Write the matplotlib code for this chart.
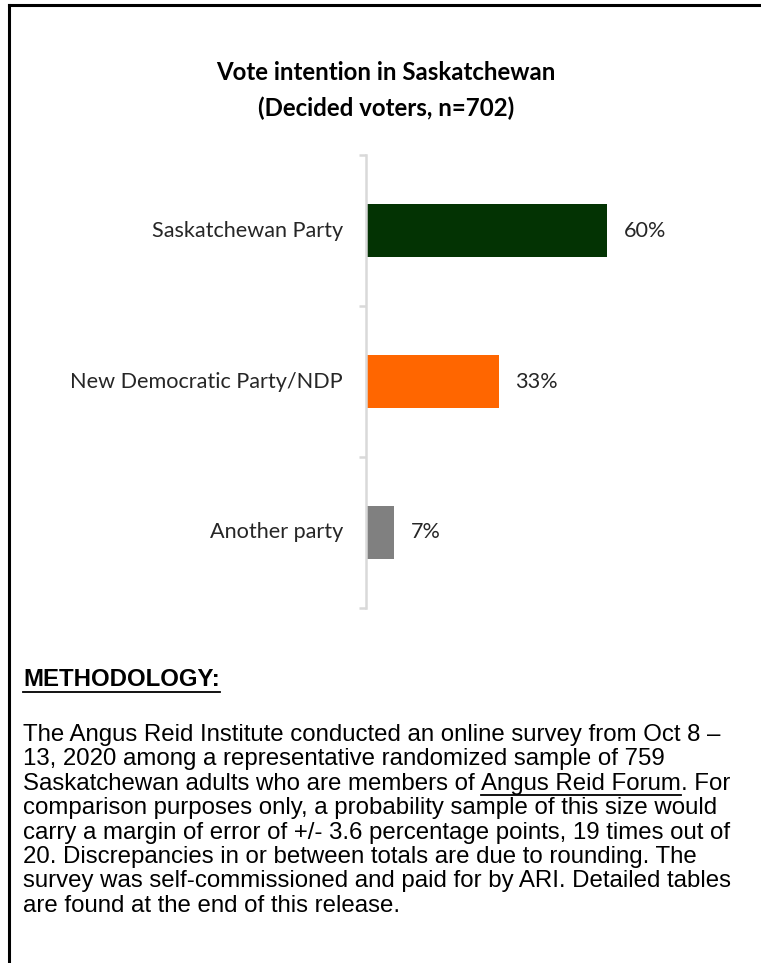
import matplotlib
matplotlib.use("Agg")
import matplotlib.pyplot as plt
from matplotlib.lines import Line2D

categories = ["Saskatchewan Party", "New Democratic Party/NDP", "Another party"]
values = [60, 33, 7]
colors = ["#033303", "#FF6600", "#808080"]
title_lines = ["Vote intention in Saskatchewan", "(Decided voters, n=702)"]
method_head = "METHODOLOGY:"
body_lines = [
    "The Angus Reid Institute conducted an online survey from Oct 8 \u2013",
    "13, 2020 among a representative randomized sample of 759",
    None,
    "comparison purposes only, a probability sample of this size would",
    "carry a margin of error of +/- 3.6 percentage points, 19 times out of",
    "20. Discrepancies in or between totals are due to rounding. The",
    "survey was self-commissioned and paid for by ARI. Detailed tables",
    "are found at the end of this release.",
]
line3_parts = ["Saskatchewan adults who are members of ", "Angus Reid Forum", ". For"]

W, H = 761, 963
fig = plt.figure(figsize=(W / 100, H / 100), dpi=100)
fig.patch.set_facecolor("white")

def fx(px):
    return px / W

def fy(py):
    return 1 - py / H

# border lines (left and top)
fig.add_artist(Line2D([fx(9), fx(9)], [fy(5), 0], color="black", lw=2.2))
fig.add_artist(Line2D([fx(9), 1], [fy(5), fy(5)], color="black", lw=2.2))

# title
fig.text(fx(386), fy(72), title_lines[0], ha="center", va="center",
         fontsize=17.3, fontweight="bold", family="Lato")
fig.text(fx(386), fy(108), title_lines[1], ha="center", va="center",
         fontsize=17.3, fontweight="bold", family="Lato")

# axes
ax_left, ax_top, ax_bot = 366, 155, 608
px_per_unit = 241 / 60
xmax = 90
ax = fig.add_axes([fx(ax_left), fy(ax_bot), (xmax * px_per_unit) / W, (ax_bot - ax_top) / H])
ypos = list(range(len(categories)))
ax.barh(ypos, values, height=0.345, color=colors)
ax.set_xlim(0, xmax)
ax.set_ylim(2.5, -0.5)
for s in ["top", "right", "bottom"]:
    ax.spines[s].set_visible(False)
ax.spines["left"].set_color("#d9d9d9")
ax.spines["left"].set_linewidth(1.8)
ax.set_xticks([])
ax.set_yticks([-0.5, 0.5, 1.5, 2.5])
ax.set_yticklabels([])
ax.tick_params(axis="y", length=5, width=1.8, color="#d9d9d9", direction="out")
for y, lab in zip(ypos, categories):
    ax.annotate(lab, xy=(0, y), xytext=(-23, 0), textcoords="offset pixels",
                ha="right", va="center", fontsize=15.6, family="Lato", color="#262626")
for y, v in zip(ypos, values):
    ax.annotate(f"{v}%", xy=(v, y), xytext=(17, 0), textcoords="offset pixels",
                ha="left", va="center", fontsize=15.6, family="Lato", color="#262626")

# methodology
left = 23
body_font = dict(family="Liberation Sans", fontsize=17.3, color="black")
head = fig.text(fx(left), fy(679), method_head, ha="left", va="center",
                fontweight="bold", **body_font)
y0, dy = 735, 24.4
for i, line in enumerate(body_lines):
    yy = y0 + i * dy
    if line is not None:
        fig.text(fx(left), fy(yy), line, ha="left", va="center", **body_font)
fig.canvas.draw()
r = fig.canvas.get_renderer()

def underline(t, ypix):
    bb = t.get_window_extent(renderer=r)
    fig.add_artist(Line2D([bb.x0 / W, bb.x1 / W], [fy(ypix), fy(ypix)], color="black", lw=1.3))

underline(head, 692)

yy = y0 + 2 * dy
x = left
for j, part in enumerate(line3_parts):
    t = fig.text(fx(x), fy(yy), part, ha="left", va="center", **body_font)
    fig.canvas.draw()
    bb = t.get_window_extent(renderer=r)
    if j == 1:
        underline(t, yy + 11)
    x = bb.x1

fig.savefig("out.png", dpi=100, facecolor="white")
